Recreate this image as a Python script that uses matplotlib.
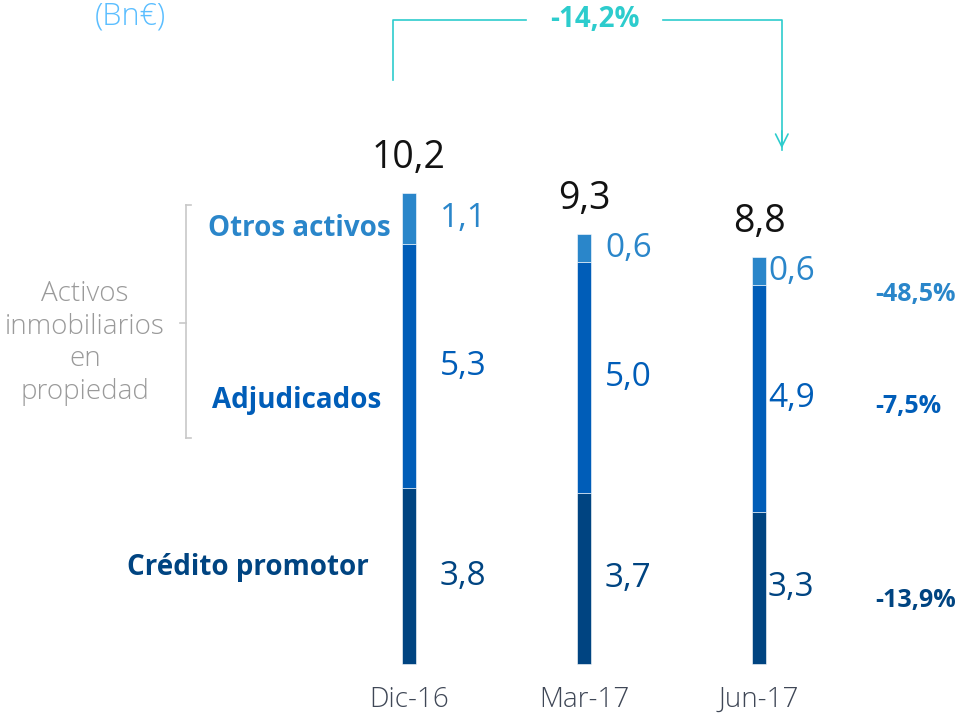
import matplotlib
matplotlib.use('Agg')
from matplotlib import pyplot as plt
import numpy as np

# data (Bn EUR)
periods = ['Dic-16', 'Mar-17', 'Jun-17']
credito = [3.8, 3.7, 3.3]
adjudicados = [5.3, 5.0, 4.9]
otros = [1.1, 0.6, 0.6]
totals = ['10,2', '9,3', '8,8']
series_names = ['Crédito promotor', 'Adjudicados', 'Otros activos']
growth = ['-13,9%', '-7,5%', '-48,5%']
total_growth = '-14,2%'

c_cred = '#004481'
c_adj = '#005db8'
c_otros = '#2a86ca'
c_teal = '#2dcccd'

plt.rcParams['font.family'] = ['Open Sans', 'DejaVu Sans']

fig = plt.figure(figsize=(9.64, 7.15), dpi=100)
ax = fig.add_axes([0, 0, 1, 1])
ax.set_xlim(-2.337, 3.171)
ax.set_ylim(-1.104, 14.372)
ax.axis('off')

x = np.arange(len(periods))
w = 0.08
cred = np.array(credito)
adj = np.array(adjudicados)
otr = np.array(otros)

ax.bar(x, cred, w, color=c_cred, edgecolor='white', linewidth=0.4)
ax.bar(x, adj, w, bottom=cred, color=c_adj, edgecolor='white', linewidth=0.4)
ax.bar(x, otr, w, bottom=cred + adj, color=c_otros, edgecolor='white', linewidth=0.4)

tops = cred + adj + otr
lab = lambda v: ('%.1f' % v).replace('.', ',')
off = [31, 21, 9]
for i in range(len(periods)):
    ax.annotate(totals[i], (x[i], tops[i]), xytext=(0, 35), textcoords='offset pixels',
                ha='center', va='center', fontsize=27, color='#121212')
    mids = [cred[i] / 2, cred[i] + adj[i] / 2, cred[i] + adj[i] + otr[i] / 2]
    vals = [cred[i], adj[i], otr[i]]
    cols = [c_cred, c_adj, c_otros]
    for m, v, c in zip(mids, vals, cols):
        ax.annotate(lab(v), (x[i], m), xytext=(off[i], 0), textcoords='offset pixels',
                    ha='left', va='center', fontsize=24, color=c)
    ax.text(x[i], -0.78, periods[i], ha='center', va='center', fontsize=20,
            color='#3f4756', fontweight='light')

# series names on the left
def px(xp, yp):
    # pixel (from top-left) -> figure fraction
    return xp / 964, 1 - yp / 715

fig.text(*px(391, 228), series_names[2], ha='right', va='center', fontsize=20,
         fontweight='bold', color=c_otros)
fig.text(*px(381, 400), series_names[1], ha='right', va='center', fontsize=20,
         fontweight='bold', color=c_adj)
fig.text(*px(369, 567), series_names[0], ha='right', va='center', fontsize=20,
         fontweight='bold', color=c_cred)

# bracket
bx, by0, by1, bm = 186, 205, 438, 323
for seg in [((bx, by0), (bx, by1)), ((bx, by0), (bx + 5, by0)),
            ((bx, by1), (bx + 5, by1)), ((bx - 6, bm), (bx, bm))]:
    (xa, ya), (xb, yb) = seg
    fig.add_artist(plt.Line2D([xa / 964, xb / 964], [1 - ya / 715, 1 - yb / 715],
                              color='#c8c8c8', linewidth=1.2))
fig.text(*px(85, 343), 'Activos\ninmobiliarios\nen\npropiedad', ha='center', va='center',
         fontsize=20, color='#9a9a9a', fontweight='light', linespacing=1.22)

# growth on the right
gy = [601, 407, 295]
gc = [c_cred, c_adj, c_otros]
for g, yy, c in zip(growth, gy, gc):
    fig.text(*px(875, yy), g, ha='left', va='center', fontsize=18, fontweight='bold', color=c)

fig.text(*px(130, 17), '(Bn€)', ha='center', va='center', fontsize=22, color='#5bbeff',
         fontweight='light')

# total change arrow
ytop = 13.94
xl = x[0] - 0.09
xr = x[2] + 0.13
ax.plot([xl, xl, x[0] + 0.67], [12.64, ytop, ytop], color=c_teal, lw=1.2)
ax.plot([x[0] + 1.45, xr, xr], [ytop, ytop, 11.13], color=c_teal, lw=1.2)
ax.annotate('', xy=(xr, 11.1), xytext=(xr, 11.6),
            arrowprops=dict(arrowstyle='->,head_length=0.9,head_width=0.45', color=c_teal, lw=1.2))
ax.text(x[0] + 1.06, ytop, total_growth, ha='center', va='center', fontsize=20,
        fontweight='bold', color=c_teal)

fig.savefig('out.png', dpi=100)
